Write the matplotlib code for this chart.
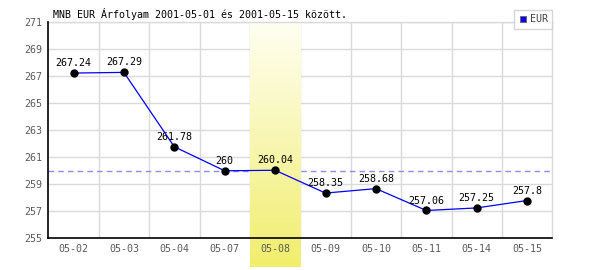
"""MNB EUR exchange rate, 2001-05-01 .. 2001-05-15 (recreated chart)."""

import matplotlib

matplotlib.use("Agg")
import matplotlib.pyplot as plt
import numpy as np
from matplotlib.colors import LinearSegmentedColormap

# ---- data -----------------------------------------------------------------
DATES = ["05-02", "05-03", "05-04", "05-07", "05-08",
         "05-09", "05-10", "05-11", "05-14", "05-15"]
EUR = [267.24, 267.29, 261.78, 260.0, 260.04,
       258.35, 258.68, 257.06, 257.25, 257.8]
LABELS = ["267.24", "267.29", "261.78", "260", "260.04",
          "258.35", "258.68", "257.06", "257.25", "257.8"]
Y_TICKS = [255, 257, 259, 261, 263, 265, 267, 269, 271]
REF_LEVEL = 260.0
HIGHLIGHT = "05-08"
TITLE = "MNB EUR Árfolyam 2001-05-01 és 2001-05-15 között."

# ---- style ----------------------------------------------------------------
W, H = 600, 270
FONT = "DejaVu Sans Mono"
FS = 7.2
GRID = "#dadada"
TICK_TXT = "#5a5a5a"

plt.rcParams["font.family"] = FONT

fig = plt.figure(figsize=(W / 100, H / 100), dpi=100)
# plot area in pixels: x 48..552, y 22..238
ax = fig.add_axes([48.3 / W, 1 - 238.3 / H, 504 / W, 216 / H])

x = np.arange(len(DATES))

# grid drawn by hand so the highlight column can sit above it
for yv in Y_TICKS:
    ax.axhline(yv, color=GRID, lw=1.0, zorder=0.5)
for xv in x[1:]:
    ax.axvline(xv - 0.5, color=GRID, lw=1.0, zorder=0.5)

ax.axhline(REF_LEVEL, color="#8c8cff", lw=1.0, ls=(0, (4, 3)), zorder=0.8)

# highlighted column with vertical yellow gradient, runs below the axis
hi = DATES.index(HIGHLIGHT)
cmap = LinearSegmentedColormap.from_list(
    "hl", ["#fffff2", "#f8f6b0", "#f1ee6c"])
grad = np.linspace(0, 1, 256).reshape(-1, 1)
ax.imshow(grad, cmap=cmap, aspect="auto", origin="upper",
          extent=[hi - 0.5, hi + 0.5, 252.9, Y_TICKS[-1]],
          zorder=1.0, clip_on=False, interpolation="bilinear")
ax.set_xlim(-0.5, len(DATES) - 0.5)
ax.set_ylim(Y_TICKS[0], Y_TICKS[-1])

ax.plot(x, EUR, color="#0000ff", lw=0.9, zorder=3, label="EUR")
ax.plot(x, EUR, ls="None", marker="o", ms=5.0, color="black", zorder=4)

for xi, yi, lab in zip(x, EUR, LABELS):
    ax.annotate(lab, (xi, yi), xytext=(0, 5), textcoords="offset points",
                ha="center", va="baseline", fontsize=FS, color="black",
                zorder=5)

ax.set_xticks(x)
ax.set_xticklabels(DATES)
ax.set_yticks(Y_TICKS)
ax.tick_params(axis="both", length=0, labelsize=FS, labelcolor=TICK_TXT)
ax.tick_params(axis="x", pad=4)
ax.tick_params(axis="y", pad=4.5)

for side in ("left", "bottom"):
    ax.spines[side].set_color("black")
    ax.spines[side].set_linewidth(1.2)
    ax.spines[side].set_zorder(2.6)
for side in ("top", "right"):
    ax.spines[side].set_color(GRID)
    ax.spines[side].set_linewidth(1.0)

fig.text(53 / W, 1 - 18.3 / H, TITLE, fontsize=FS, color="black",
         ha="left", va="baseline")

handle = plt.Line2D([], [], ls="None", marker="s", ms=5,
                    markerfacecolor="#0000ff", markeredgecolor="#666666",
                    markeredgewidth=0.6)
leg = ax.legend([handle], ["EUR"], loc="upper right",
                bbox_to_anchor=(552.3 / W, 1 - 10 / H),
                bbox_transform=fig.transFigure, borderaxespad=0,
                fontsize=FS, frameon=True, fancybox=False,
                handlelength=0.8, handletextpad=0.3, borderpad=0.45)
leg.get_frame().set_edgecolor("#cccccc")
leg.get_frame().set_linewidth(1.0)
leg.set_zorder(6)
for t in leg.get_texts():
    t.set_color("#444444")

fig.savefig("out.png", dpi=100)
